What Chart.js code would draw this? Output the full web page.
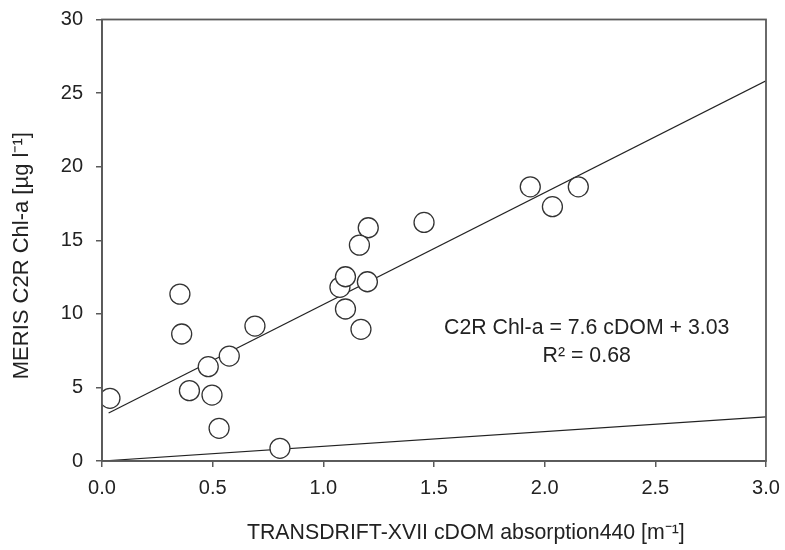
<!DOCTYPE html>
<html>
<head>
<meta charset="utf-8">
<script src="https://cdn.jsdelivr.net/npm/chart.js@4"></script>
<style>
html,body{margin:0;padding:0;background:#fff;}
#wrap{width:785px;height:550px;}
</style>
</head>
<body>
<div id="wrap"><canvas id="c" width="785" height="550"></canvas></div>
<script>
const cdomValues = [0.036, 0.352, 0.36, 0.395, 0.48, 0.497, 0.529, 0.575, 0.691, 0.804, 1.075, 1.10, 1.10, 1.17, 1.199, 1.203, 1.163, 1.455, 1.935, 2.035, 2.152];
const chlValues  = [4.26, 11.34, 8.63, 4.78, 6.41, 4.48, 2.22, 7.13, 9.17, 0.86, 11.8, 12.52, 10.33, 8.95, 12.18, 15.85, 14.67, 16.21, 18.63, 17.28, 18.63];
const fitSlope = 7.6;
const fitIntercept = 3.03;
const fitRange = [0.03, 3.0];
const oneToOneRange = [0, 3.0];
const xTicks = [0.0, 0.5, 1.0, 1.5, 2.0, 2.5, 3.0];
const yTicks = [0, 5, 10, 15, 20, 25, 30];
const equationLines = ["C2R Chl-a = 7.6 cDOM + 3.03", "R\u00B2 = 0.68"];
const xTitle = "TRANSDRIFT-XVII cDOM absorption440 [m\u207B\u00B9]";
const yTitle = "MERIS C2R Chl-a [\u00B5g l\u207B\u00B9]";

const scatterPts = cdomValues.map((x, i) => ({x: x, y: chlValues[i]}));
const fitPts = fitRange.map(x => ({x: x, y: fitSlope * x + fitIntercept}));
const onePts = oneToOneRange.map(x => ({x: x, y: x}));

const FONT = "'Liberation Sans', Arial, sans-serif";
const textColor = '#222';
const axisColor = '#5a5a5a';

const framePlugin = {
  id: 'frame',
  afterDraw(chart) {
    const {ctx, chartArea: a, scales} = chart;
    ctx.save();
    ctx.strokeStyle = axisColor;
    ctx.lineWidth = 1.8;
    ctx.strokeRect(a.left, a.top, a.right - a.left, a.bottom - a.top);
    ctx.fillStyle = textColor;
    ctx.textAlign = 'center';
    ctx.textBaseline = 'middle';
    // equation annotation
    ctx.font = "21.3px " + FONT;
    const cx = scales.x.getPixelForValue(2.19);
    ctx.fillText(equationLines[0], cx, scales.y.getPixelForValue(9.04));
    ctx.fillText(equationLines[1], cx, scales.y.getPixelForValue(7.1));
    // axis titles
    ctx.font = "21.3px " + FONT;
    ctx.fillText(xTitle, a.left + (a.right - a.left) * 0.548, a.bottom + 72);
    ctx.font = "22px " + FONT;
    ctx.translate(a.left - 80, a.top + (a.bottom - a.top) * 0.535);
    ctx.rotate(-Math.PI / 2);
    ctx.fillText(yTitle, 0, 0);
    ctx.restore();
  }
};

new Chart(document.getElementById('c'), {
  type: 'scatter',
  data: {
    datasets: [
      {
        type: 'line', data: fitPts, borderColor: '#222', borderWidth: 1.2,
        pointRadius: 0, fill: false, order: 2
      },
      {
        type: 'line', data: onePts, borderColor: '#222', borderWidth: 1.2,
        pointRadius: 0, fill: false, order: 2
      },
      {
        data: scatterPts, pointRadius: 10, pointHoverRadius: 10,
        pointBackgroundColor: '#fff', pointBorderColor: '#333', pointBorderWidth: 1.3,
        order: 1
      }
    ]
  },
  options: {
    responsive: false,
    animation: false,
    devicePixelRatio: 1,
    layout: {padding: {left: 0, right: 19, top: 19.5, bottom: 0}},
    plugins: {legend: {display: false}, tooltip: {enabled: false}},
    scales: {
      x: {
        type: 'linear', min: 0, max: 3,
        afterBuildTicks(s) { s.ticks = xTicks.map(v => ({value: v})); },
        afterFit(s) { s.height = 89; s.paddingLeft = 0; s.paddingRight = 0; },
        grid: {drawOnChartArea: false, tickLength: 6, color: axisColor, tickColor: axisColor, lineWidth: 1.5},
        border: {color: axisColor, width: 1.8},
        ticks: {
          color: textColor, font: {family: FONT, size: 20}, padding: 9,
          callback: v => Number(v).toFixed(1)
        },
        title: {display: false, text: xTitle}
      },
      y: {
        type: 'linear', min: 0, max: 30,
        afterBuildTicks(s) { s.ticks = yTicks.map(v => ({value: v})); },
        afterFit(s) { s.width = 102; s.paddingTop = 0; s.paddingBottom = 0; },
        grid: {drawOnChartArea: false, tickLength: 6, color: axisColor, tickColor: axisColor, lineWidth: 1.5},
        border: {color: axisColor, width: 1.8},
        ticks: {
          color: textColor, font: {family: FONT, size: 20}, padding: 13,
          callback: v => String(v)
        },
        title: {display: false, text: yTitle}
      }
    }
  },
  plugins: [framePlugin]
});
</script>
</body>
</html>
